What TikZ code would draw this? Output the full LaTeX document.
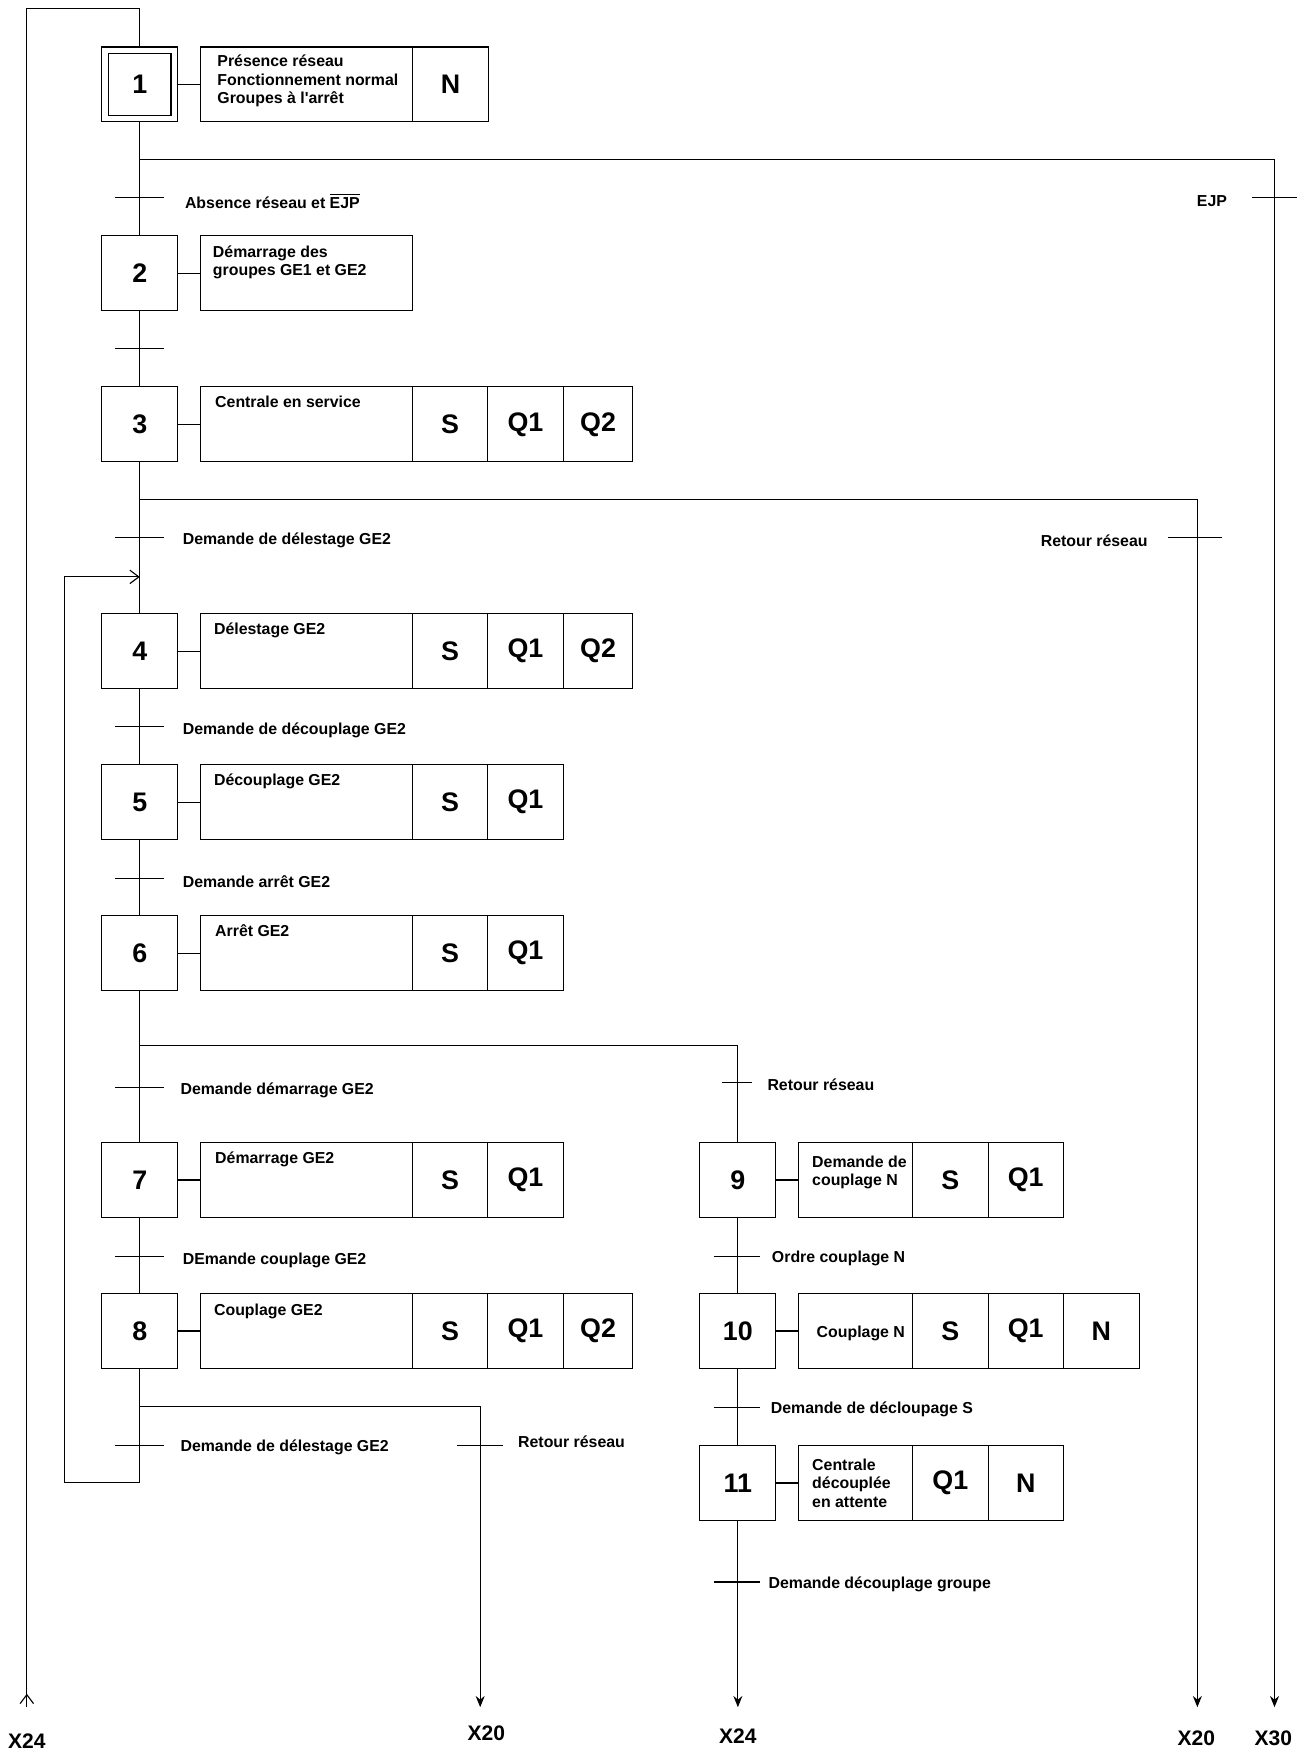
\documentclass[tikz,border=0pt]{standalone}
\usepackage{fontspec}
\setmainfont{Liberation Sans}[Ligatures=TeXOff]
\usepackage{tikz}
\usetikzlibrary{positioning,arrows.meta}

\tikzset{
  etape/.style={draw, minimum width=34pt, minimum height=33.5pt,
    inner sep=0pt, outer sep=0pt, font=\fontsize{12}{14}\selectfont\bfseries},
  cellule/.style={draw, minimum width=#1, minimum height=33.5pt,
    inner sep=0pt, outer sep=0pt, font=\fontsize{12}{14}\selectfont\bfseries},
  cellule/.default=34pt,
  txtaction/.style={inner sep=0pt, align=left,
    font=\fontsize{7.1}{8.3}\selectfont\bfseries},
  trans/.style={fill, minimum width=#1, minimum height=0.5pt,
    inner sep=0pt, outer sep=0pt},
  trans/.default=22pt,
  recept/.style={inner sep=0pt, font=\fontsize{7.1}{8.5}\selectfont\bfseries},
  renvoi/.style={inner sep=0pt, font=\fontsize{9.4}{11}\selectfont\bfseries},
  fleche/.style={-{Stealth[length=5pt,width=4pt]}},
  barb/.style={-{Straight Barb[length=4pt,width=6pt]}},
}

\begin{document}
\begin{tikzpicture}[x=0.5pt, y=-0.5pt, line width=0.5pt]
  \useasboundingbox (0,0) rectangle (1167,1568);

  % etapes, branche principale
  \node[etape] (s1) at (125,75.5) {1};
  \draw ([shift={(3pt,-3pt)}]s1.north west) rectangle ([shift={(-3pt,3pt)}]s1.south east);
  \node[etape] (s2) at (125,244.5) {2};
  \node[etape] (s3) at (125,379.5) {3};
  \node[etape] (s4) at (125,582.5) {4};
  \node[etape] (s5) at (125,717.5) {5};
  \node[etape] (s6) at (125,852.5) {6};
  \node[etape] (s7) at (125,1055.5) {7};
  \node[etape] (s8) at (125,1190.5) {8};
  % etapes, branche de droite
  \node[etape] (s9) at (660,1055.5) {9};
  \node[etape] (s10) at (660,1190.5) {10};
  \node[etape] (s11) at (660,1326.5) {11};

  % actions
  \node[cellule=95pt, right=10pt of s1] (a1) {};
  \node[cellule, right=0pt of a1] (a1n) {N};
  \node[txtaction, anchor=west] (a1t) at ([xshift=7.5pt, yshift=1.5pt]a1.west)
    {Présence réseau\\Fonctionnement normal\\Groupes à l'arrêt};

  \node[cellule=95pt, right=10pt of s2] (a2) {};
  \node[txtaction, anchor=north west] (a2t) at ([xshift=5.5pt, yshift=-4pt]a2.north west)
    {Démarrage des\\groupes GE1 et GE2};

  \node[cellule=95pt, right=10pt of s3] (a3) {};
  \node[cellule=33.5pt, right=0pt of a3] (a3s) {S};
  \node[cellule, right=0pt of a3s] (a3q1) {Q1};
  \node[cellule=31pt, right=0pt of a3q1] (a3q2) {Q2};
  \node[txtaction, anchor=north west] (a3t) at ([xshift=6.5pt, yshift=-4pt]a3.north west)
    {Centrale en service};

  \node[cellule=95pt, right=10pt of s4] (a4) {};
  \node[cellule=33.5pt, right=0pt of a4] (a4s) {S};
  \node[cellule, right=0pt of a4s] (a4q1) {Q1};
  \node[cellule=31pt, right=0pt of a4q1] (a4q2) {Q2};
  \node[txtaction, anchor=north west] (a4t) at ([xshift=6pt, yshift=-4pt]a4.north west)
    {Délestage GE2};

  \node[cellule=95pt, right=10pt of s5] (a5) {};
  \node[cellule=33.5pt, right=0pt of a5] (a5s) {S};
  \node[cellule, right=0pt of a5s] (a5q1) {Q1};
  \node[txtaction, anchor=north west] (a5t) at ([xshift=6pt, yshift=-4pt]a5.north west)
    {Découplage GE2};

  \node[cellule=95pt, right=10pt of s6] (a6) {};
  \node[cellule=33.5pt, right=0pt of a6] (a6s) {S};
  \node[cellule, right=0pt of a6s] (a6q1) {Q1};
  \node[txtaction, anchor=north west] (a6t) at ([xshift=6.5pt, yshift=-4pt]a6.north west)
    {Arrêt GE2};

  \node[cellule=95pt, right=10pt of s7] (a7) {};
  \node[cellule=33.5pt, right=0pt of a7] (a7s) {S};
  \node[cellule, right=0pt of a7s] (a7q1) {Q1};
  \node[txtaction, anchor=north west] (a7t) at ([xshift=6.5pt, yshift=-4pt]a7.north west)
    {Démarrage GE2};

  \node[cellule=95pt, right=10pt of s8] (a8) {};
  \node[cellule=33.5pt, right=0pt of a8] (a8s) {S};
  \node[cellule, right=0pt of a8s] (a8q1) {Q1};
  \node[cellule=31pt, right=0pt of a8q1] (a8q2) {Q2};
  \node[txtaction, anchor=north west] (a8t) at ([xshift=6pt, yshift=-4.5pt]a8.north west)
    {Couplage GE2};

  \node[cellule=51pt, right=10pt of s9] (a9) {};
  \node[cellule, right=0pt of a9] (a9s) {S};
  \node[cellule=33.5pt, right=0pt of a9s] (a9q1) {Q1};
  \node[txtaction, anchor=west] (a9t) at ([xshift=6pt, yshift=3.5pt]a9.west)
    {Demande de\\couplage N};

  \node[cellule=51pt, right=10pt of s10] (a10) {};
  \node[cellule, right=0pt of a10] (a10s) {S};
  \node[cellule=33.5pt, right=0pt of a10s] (a10q1) {Q1};
  \node[cellule, right=0pt of a10q1] (a10n) {N};
  \node[txtaction, anchor=west] (a10t) at ([xshift=8pt, yshift=-1pt]a10.west)
    {Couplage N};

  \node[cellule=51pt, right=10pt of s11] (a11) {};
  \node[cellule, right=0pt of a11] (a11q1) {Q1};
  \node[cellule=33.5pt, right=0pt of a11q1] (a11n) {N};
  \node[txtaction, anchor=west] (a11t) at ([xshift=6pt]a11.west)
    {Centrale\\découplée\\en attente};

  % liaisons etape -> action
  \foreach \i in {1,...,11}
    \draw (s\i) -- (a\i);

  % transitions
  \node[trans] (t1) at (125,177) {};
  \node[trans] (t2) at (125,312) {};
  \node[trans] (t3) at (125,481) {};
  \node[trans] (t4) at (125,650) {};
  \node[trans] (t5) at (125,786) {};
  \node[trans] (t6) at (125,973) {};
  \node[trans] (t7) at (125,1124) {};
  \node[trans] (t8) at (125,1293) {};
  \node[trans=13.5pt] (t6b) at (659.5,968) {};
  \node[trans=20.5pt] (t9) at (659.5,1124) {};
  \node[trans=20.5pt] (t10) at (659.5,1259) {};
  \node[trans=20.5pt] (t11) at (659.5,1415) {};
  \node[trans=20.5pt] (t8b) at (429.5,1293) {};
  \node[trans=20pt] (tejp) at (1140,177) {};
  \node[trans=24pt] (tret) at (1069,481) {};

  % receptivites
  \node[recept, anchor=west] (l1) at ([xshift=9pt, yshift=-1.5pt]t1.east) {Absence réseau et $\overline{\mbox{EJP}}$};
  \node[recept, anchor=west] (l3) at ([xshift=8pt, yshift=-1pt]t3.east) {Demande de délestage GE2};
  \node[recept, anchor=west] (l4) at ([xshift=8pt, yshift=-1.5pt]t4.east) {Demande de découplage GE2};
  \node[recept, anchor=west] (l5) at ([xshift=8pt, yshift=-1.5pt]t5.east) {Demande arrêt GE2};
  \node[recept, anchor=west] (l6) at ([xshift=7pt, yshift=-1pt]t6.east) {Demande démarrage GE2};
  \node[recept, anchor=west] (l7) at ([xshift=8pt, yshift=-1.5pt]t7.east) {DEmande couplage GE2};
  \node[recept, anchor=west] (l8) at ([xshift=7pt, yshift=-1pt]t8.east) {Demande de délestage GE2};
  \node[recept, anchor=west] (l6b) at ([xshift=6.5pt, yshift=-1pt]t6b.east) {Retour réseau};
  \node[recept, anchor=west] (l8b) at ([xshift=6.5pt, yshift=1.5pt]t8b.east) {Retour réseau};
  \node[recept, anchor=west] (l9) at ([xshift=5pt, yshift=-1pt]t9.east) {Ordre couplage N};
  \node[recept, anchor=west] (l10) at ([xshift=4.5pt, yshift=-1pt]t10.east) {Demande de décloupage S};
  \node[recept, anchor=west] (l11) at ([xshift=3.5pt, yshift=-1pt]t11.east) {Demande découplage groupe};
  \node[recept, anchor=east] (lejp) at ([xshift=-11pt, yshift=-1.5pt]tejp.west) {EJP};
  \node[recept, anchor=east] (lret) at ([xshift=-9pt, yshift=-1.5pt]tret.west) {Retour réseau};

  % points de divergence et renvois
  \coordinate (haut) at (24,7.5);
  \coordinate (d1) at (125,143);
  \coordinate (d3) at (125,447);
  \coordinate (d6) at (125,935);
  \coordinate (d8) at (125,1258);
  \coordinate (j4) at (125,516);
  \coordinate (r8) at (125,1326);
  \coordinate (rb) at (58,1326);
  \coordinate (rh) at (58,516);
  \coordinate (x24g) at (24,1527);
  \coordinate (x20g) at (429.5,1527);
  \coordinate (x24d) at (660,1527);
  \coordinate (x20d) at (1071,1527);
  \coordinate (x30) at (1140,1527);

  % sequence principale
  \draw (s1) -- (s2);
  \draw (s2) -- (s3);
  \draw (s3) -- (s4);
  \draw (s4) -- (s5);
  \draw (s5) -- (s6);
  \draw (s6) -- (s7);
  \draw (s7) -- (s8);
  \draw (s9) -- (s10);
  \draw (s10) -- (s11);

  % entree depuis X24
  \draw (s1.north) |- (haut) -- (x24g);
  \draw[barb] (x24g) -- ++(0,-12);

  % divergences en OU
  \draw[fleche] (d1) -| (x30);
  \draw[fleche] (d3) -| (x20d);
  \draw (d6) -| (s9.north);
  \draw[fleche] (d8) -| (x20g);
  \draw[fleche] (s11) -- (x24d);

  % reprise vers l'etape 4
  \draw[barb] (s8.south) -- (r8) -- (rb) -- (rh) -- (j4);

  % renvois
  \node[renvoi] (rx24g) at (24,1557) {X24};
  \node[renvoi] (rx20g) at (435,1550) {X20};
  \node[renvoi] (rx24d) at (660,1553) {X24};
  \node[renvoi] (rx20d) at (1070,1555) {X20};
  \node[renvoi] (rx30) at (1139,1555) {X30};
\end{tikzpicture}
\end{document}
